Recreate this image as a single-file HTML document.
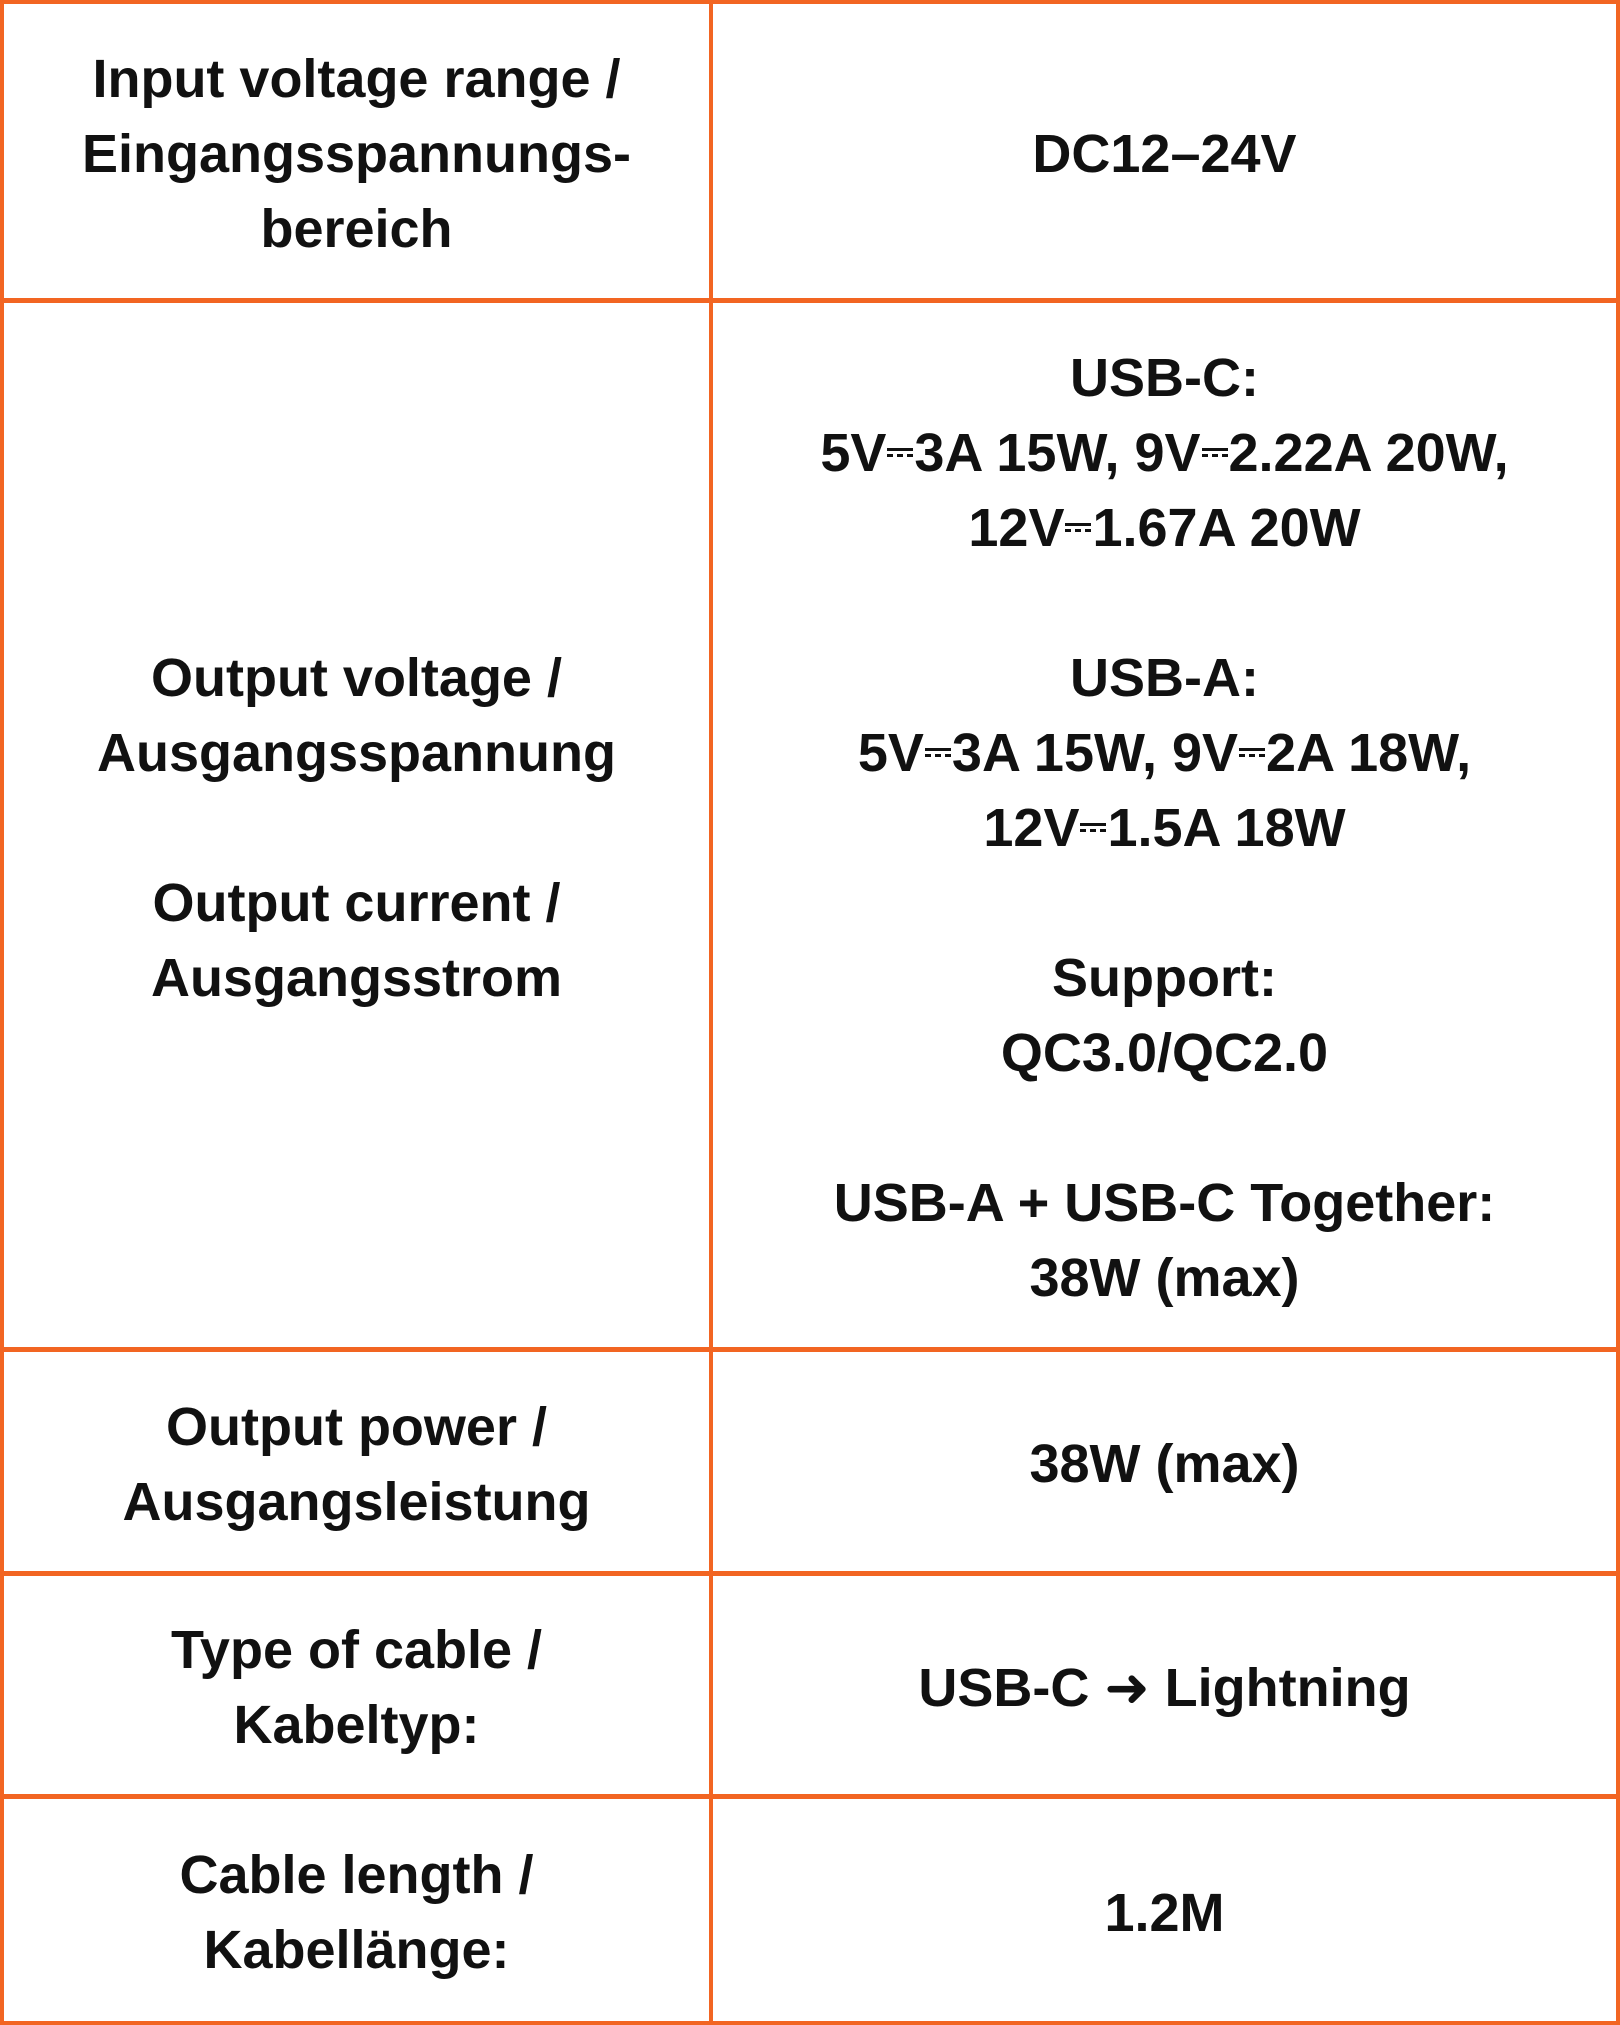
<!DOCTYPE html>
<html><head><meta charset="utf-8"><style>
html,body{margin:0;padding:0;background:#fff;}
body{width:1620px;height:2025px;position:relative;overflow:hidden;font-family:"Liberation Sans","DejaVu Sans",sans-serif;font-weight:bold;color:#111;}
.l{position:absolute;background:#F26522;}
.c{position:absolute;display:flex;align-items:center;justify-content:center;text-align:center;font-size:54px;line-height:75px;box-sizing:border-box;padding-top:6px;}
.c>div{white-space:nowrap;}
.dc{display:inline-block;width:26px;height:12px;vertical-align:middle;position:relative;top:-4px;margin:0 1px;}
.dc:before{content:"";position:absolute;left:0;right:0;top:2px;border-top:3px solid #111;}
.dc:after{content:"";position:absolute;left:0;right:0;top:8px;border-top:3px dashed #111;}
</style></head><body>
<div class="l" style="left:0;top:0;width:1620px;height:4px"></div>
<div class="l" style="left:0;top:2021px;width:1620px;height:4px"></div>
<div class="l" style="left:0;top:0;width:4px;height:2025px"></div>
<div class="l" style="left:1616px;top:0;width:4px;height:2025px"></div>
<div class="l" style="left:709px;top:0;width:4px;height:2025px"></div>
<div class="l" style="left:0;top:298px;width:1620px;height:5px"></div>
<div class="l" style="left:0;top:1347px;width:1620px;height:5px"></div>
<div class="l" style="left:0;top:1571px;width:1620px;height:5px"></div>
<div class="l" style="left:0;top:1794px;width:1620px;height:5px"></div>

<div class="c" style="left:4px;top:4px;width:705px;height:294px"><div>Input voltage range /<br>Eingangsspannungs-<br>bereich</div></div>
<div class="c" style="left:713px;top:4px;width:903px;height:294px"><div>DC12–24V</div></div>

<div class="c" style="left:4px;top:303px;width:705px;height:1044px"><div>Output voltage /<br>Ausgangsspannung<br>&nbsp;<br>Output current /<br>Ausgangsstrom</div></div>
<div class="c" style="left:713px;top:303px;width:903px;height:1044px"><div>USB-C:<br>5V<span class="dc"></span>3A 15W, 9V<span class="dc"></span>2.22A 20W,<br>12V<span class="dc"></span>1.67A 20W<br>&nbsp;<br>USB-A:<br>5V<span class="dc"></span>3A 15W, 9V<span class="dc"></span>2A 18W,<br>12V<span class="dc"></span>1.5A 18W<br>&nbsp;<br>Support:<br>QC3.0/QC2.0<br>&nbsp;<br>USB-A + USB-C Together:<br>38W (max)</div></div>

<div class="c" style="left:4px;top:1352px;width:705px;height:219px"><div>Output power /<br>Ausgangsleistung</div></div>
<div class="c" style="left:713px;top:1352px;width:903px;height:219px"><div>38W (max)</div></div>

<div class="c" style="left:4px;top:1576px;width:705px;height:218px"><div>Type of cable /<br>Kabeltyp:</div></div>
<div class="c" style="left:713px;top:1576px;width:903px;height:218px"><div>USB-C ➜ Lightning</div></div>

<div class="c" style="left:4px;top:1799px;width:705px;height:222px"><div>Cable length /<br>Kabellänge:</div></div>
<div class="c" style="left:713px;top:1799px;width:903px;height:222px"><div>1.2M</div></div>
</body></html>
